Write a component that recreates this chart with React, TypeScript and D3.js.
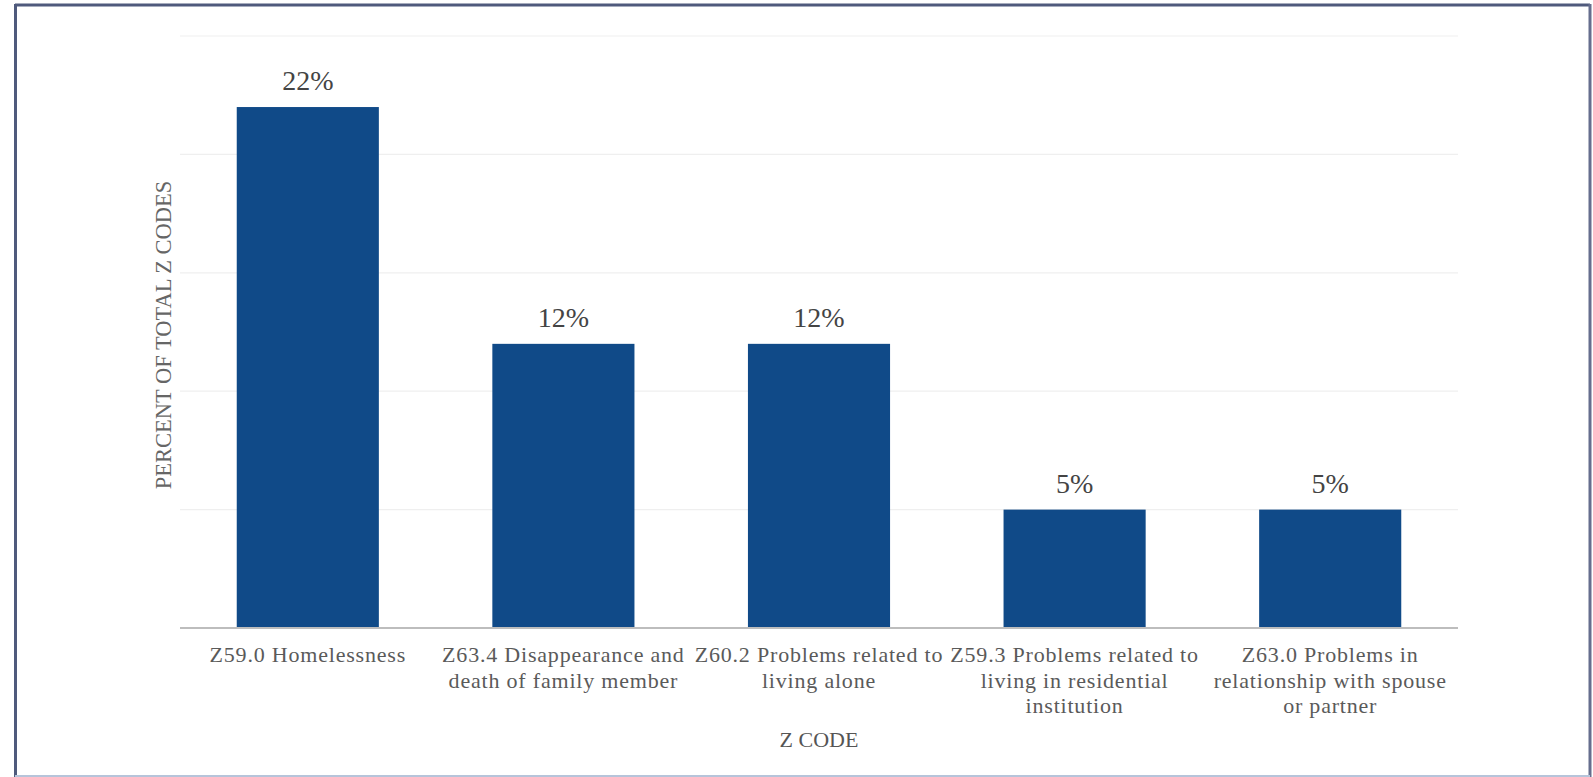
import * as d3 from "d3";

const categories = [
  "Z59.0 Homelessness",
  "Z63.4 Disappearance and\ndeath of family member",
  "Z60.2 Problems related to\nliving alone",
  "Z59.3 Problems related to\nliving in residential\ninstitution",
  "Z63.0 Problems in\nrelationship with spouse\nor partner",
];
const percents = [22, 12, 12, 5, 5];
const gridTicks = [5, 10, 15, 20, 25];

const FONT = "'Liberation Serif', 'Times New Roman', serif";

const width = 1593;
const height = 777;
const left = 180;
const right = 1458;
const top = 36;
const bottom = 628;

export default function App() {
  const x = d3.scaleBand<string>().domain(categories).range([left, right])
    .paddingInner(0.444).paddingOuter(0.222);
  const y = d3.scaleLinear().domain([0, 25]).range([bottom, top]);

  return (
    <svg
      width={width}
      height={height}
      style={{ position: "absolute", left: 0, top: 0, display: "block" }}
    >
      <rect width={width} height={height} fill="#ffffff" />

      {/* frame */}
      <line x1={15} x2={1590} y1={5} y2={5} stroke="#4f5a7c" strokeWidth={3} />
      <line x1={15.5} x2={15.5} y1={4} y2={777} stroke="#4f5a7c" strokeWidth={3} />
      <line x1={1590} x2={1590} y1={4} y2={777} stroke="#666e8e" strokeWidth={3} />
      <line x1={15} x2={1590} y1={776} y2={776} stroke="#b6c4da" strokeWidth={2} />

      {gridTicks.map(t => (
        <line key={t} x1={left} x2={right} y1={y(t)} y2={y(t)} stroke="#efefef" strokeWidth={1.2} />
      ))}

      {percents.map((v, i) => (
        <rect
          key={categories[i]}
          x={x(categories[i])}
          width={x.bandwidth()}
          y={y(v)}
          height={y(0) - y(v)}
          fill="#104a88"
        />
      ))}

      <line x1={left} x2={right} y1={y(0)} y2={y(0)} stroke="#bdbdbd" strokeWidth={2} />

      {percents.map((v, i) => (
        <text
          key={"v" + i}
          x={x(categories[i])! + x.bandwidth() / 2}
          y={y(v) - 17}
          textAnchor="middle"
          fontFamily={FONT}
          fontSize={28}
          fill="#444444"
        >
          {`${v}%`}
        </text>
      ))}

      {categories.map(c => {
        const cx = x(c)! + x.bandwidth() / 2;
        return c.split("\n").map((line, j) => (
          <text
            key={c + j}
            x={cx}
            y={bottom + 34 + j * 25.5}
            textAnchor="middle"
            fontFamily={FONT}
            fontSize={22}
            letterSpacing={0.8}
            fill="#5a5a5a"
          >
            {line}
          </text>
        ));
      })}

      <text x={(left + right) / 2} y={747} textAnchor="middle" fontFamily={FONT} fontSize={22} fill="#555555">
        Z CODE
      </text>

      <text
        transform={`translate(171,${(top + bottom) / 2 + 3}) rotate(-90)`}
        textAnchor="middle"
        fontFamily={FONT}
        fontSize={22.5}
        fill="#666666"
      >
        PERCENT OF TOTAL Z CODES
      </text>
    </svg>
  );
}
